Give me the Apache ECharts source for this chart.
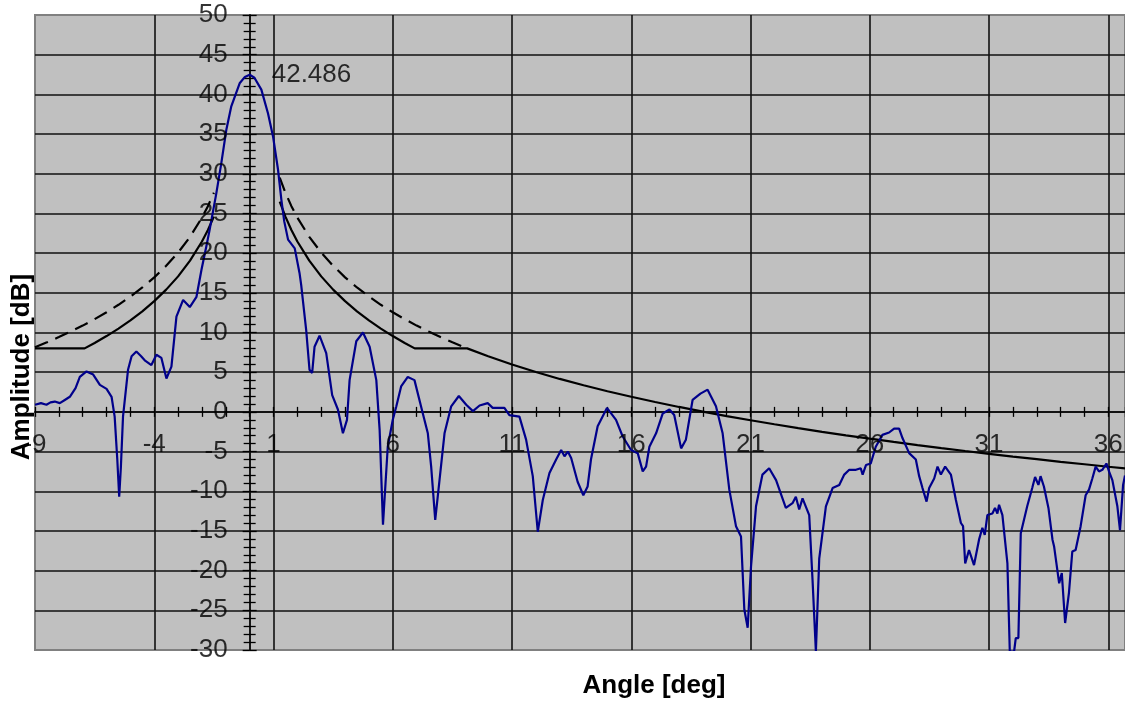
<!DOCTYPE html>
<html><head><meta charset="utf-8">
<script src="https://cdn.jsdelivr.net/npm/echarts@6/dist/echarts.min.js"></script>
<style>html,body{margin:0;padding:0;background:#fff}#c{width:1125px;height:704px}</style>
</head><body><div id="c"></div><script>
// Measured antenna pattern (blue)
const blueAngle = [-9.0,-8.75,-8.52,-8.35,-8.17,-7.96,-7.75,-7.54,-7.3,-7.12,-6.84,-6.56,-6.28,-6.0,-5.79,-5.66,-5.55,-5.47,-5.40,-5.31,-5.10,-4.95,-4.75,-4.55,-4.40,-4.12,-3.91,-3.70,-3.49,-3.28,-3.07,-2.79,-2.51,-2.23,-2.02,-1.82,-1.68,-1.40,-1.19,-0.98,-0.77,-0.42,-0.2,0,0.2,0.49,0.77,0.98,1.19,1.33,1.45,1.61,1.89,2.09,2.16,2.37,2.51,2.62,2.72,2.93,3.21,3.46,3.70,3.91,4.08,4.19,4.47,4.75,5.03,5.31,5.45,5.59,5.79,6.0,6.15,6.35,6.63,6.91,7.26,7.47,7.61,7.78,7.96,8.17,8.45,8.77,9.08,9.36,9.64,9.98,10.19,10.68,10.89,11.31,11.59,11.87,12.08,12.29,12.57,12.85,13.06,13.2,13.34,13.48,13.75,13.99,14.17,14.31,14.59,14.98,15.36,15.64,15.99,16.27,16.48,16.62,16.76,17.04,17.32,17.60,17.8,18.09,18.29,18.57,18.9,19.2,19.55,19.83,20.11,20.39,20.6,20.74,20.88,21.02,21.23,21.5,21.78,22.07,22.48,22.76,22.9,23.04,23.18,23.46,23.6,23.74,23.88,24.16,24.44,24.72,24.93,25.14,25.42,25.62,25.7,25.84,26.04,26.25,26.53,26.81,27.02,27.23,27.37,27.65,27.93,28.07,28.21,28.38,28.49,28.7,28.84,28.98,29.16,29.4,29.61,29.82,29.91,30.0,30.16,30.37,30.58,30.72,30.82,30.93,31.14,31.25,31.35,31.42,31.56,31.77,31.87,32.05,32.12,32.23,32.33,32.6,32.81,32.93,33.07,33.16,33.3,33.49,33.66,33.73,33.94,34.05,34.19,34.35,34.49,34.63,34.84,35.05,35.19,35.33,35.47,35.61,35.75,35.92,36.03,36.17,36.38,36.49,36.62,36.7];
const blueDb = [0.9,1.1,0.9,1.2,1.3,1.1,1.5,1.9,3.0,4.4,5.1,4.7,3.4,2.9,1.9,-0.6,-6.0,-10.7,-7.0,-0.6,5.3,7.0,7.6,7.0,6.5,5.9,7.2,6.8,4.2,5.7,12.0,14.1,13.2,14.5,17.9,20.8,22.9,27.5,31.3,35.5,38.5,41.4,42.2,42.486,42.1,40.6,37.6,34.7,30.5,26.7,24.0,21.7,20.6,17.5,16.0,10.3,5.3,4.9,8.2,9.6,7.4,2.1,0.3,-2.7,-1.0,4.0,8.9,10.0,8.2,4.0,-2.3,-14.2,-4.4,-1.0,0.7,3.2,4.4,4.0,-0.2,-2.7,-6.9,-13.6,-8.6,-2.7,0.7,2.0,0.9,0.1,0.8,1.1,0.5,0.5,-0.4,-0.6,-3.5,-8.1,-15.1,-11.1,-7.7,-6.0,-4.8,-5.6,-5.0,-5.8,-8.8,-10.5,-9.4,-6.0,-1.8,0.5,-1.0,-3.1,-4.8,-5.2,-7.5,-6.9,-4.4,-2.7,-0.2,0.3,-0.4,-4.6,-3.5,1.5,2.3,2.8,0.7,-2.7,-9.8,-14.4,-15.7,-24.9,-27.2,-19.5,-11.9,-7.9,-7.1,-8.6,-12.1,-11.5,-10.7,-12.3,-10.9,-13.0,-21.2,-30.2,-18.5,-11.9,-9.6,-9.2,-7.9,-7.3,-7.3,-7.1,-7.9,-6.7,-6.5,-4.4,-2.9,-2.6,-2.1,-2.1,-3.3,-5.2,-6.0,-8.1,-9.6,-11.3,-9.6,-8.4,-6.9,-7.9,-6.9,-7.9,-11.1,-14.0,-14.4,-19.1,-17.4,-19.3,-16.1,-14.6,-15.5,-13.0,-12.8,-12.1,-12.8,-11.7,-13.0,-19.1,-30.2,-30.2,-28.5,-28.5,-15.3,-11.9,-9.6,-8.2,-9.2,-8.1,-9.4,-12.1,-16.1,-17.0,-21.6,-20.3,-26.6,-22.8,-17.6,-17.4,-14.4,-10.5,-9.8,-8.4,-6.9,-7.5,-7.3,-6.5,-7.5,-8.6,-11.9,-14.9,-9.2,-8.0];

// Peak annotation
const peakAngle = 0;
const peakDb = 42.486;

// Envelope masks (solid)
const solidLeftAngle = [-9,-6.92,-6.5,-6,-5.5,-5,-4.5,-4,-3.5,-3,-2.5,-2,-1.75,-1.5];
const solidLeftDb = [8,8,8.68,9.55,10.49,11.53,12.67,13.95,15.40,17.07,19.05,21.47,22.92,24.60];
const solidRightAngle = [1.26,1.5,1.75,2,2.5,3,3.5,4,4.5,5,5.5,6,6.5,6.92,9.12,10,11,12,13,14,15,16,17,18,19,20,21,22,23,24,25,26,27,28,29,30,31,32,33,34,35,36,37];
const solidRightDb = [26.5,24.60,22.92,21.47,19.05,17.07,15.40,13.95,12.67,11.53,10.49,9.55,8.68,8,8,7.0,5.97,5.02,4.15,3.35,2.60,1.90,1.24,0.62,0.03,-0.53,-1.06,-1.56,-2.04,-2.51,-2.95,-3.37,-3.78,-4.18,-4.56,-4.93,-5.28,-5.63,-5.96,-6.29,-6.60,-6.91,-7.20];
// Envelope masks (dashed)
const dashedLeftAngle = [-9,-8.5,-8,-7.5,-7,-6.5,-6,-5.5,-5,-4.5,-4,-3.5,-3,-2.5,-2,-1.75,-1.5];
const dashedLeftDb = [8.14,8.76,9.42,10.12,10.87,11.68,12.55,13.49,14.53,15.67,16.95,18.40,20.07,22.05,24.47,25.92,27.60];
const dashedRightAngle = [1.26,1.5,1.75,2,2.5,3,3.5,4,4.5,5,5.5,6,6.5,7,7.5,8,8.5,9.12];
const dashedRightDb = [29.5,27.60,25.92,24.47,22.05,20.07,18.40,16.95,15.67,14.53,13.49,12.55,11.68,10.87,10.12,9.42,8.76,8.0];

// Tick labels (drawn at the axes crossing, x = 0 / y = 0)
const xTickLabels = [-9,-4,1,6,11,16,21,26,31,36];
const yTickLabels = [-30,-25,-20,-15,-10,-5,0,5,10,15,20,25,30,35,40,45,50];

const xTitle = 'Angle [deg]';
const yTitle = 'Amplitude [dB]';

const FONT = "'Liberation Sans', Arial, sans-serif";
const pairs = (a, b) => a.map((x, i) => [x, b[i]]);

const chart = echarts.init(document.getElementById('c'), null, {renderer: 'canvas'});

const xBase = {type: 'value', min: -9, max: 36.7, interval: 5};
const yBase = {type: 'value', min: -30, max: 50, interval: 5};
const GRIDLINE = {color: '#111', width: 1.6};
const TICK = {color: '#000', width: 1.3};

const maskLine = (data, dashed) => ({
  type: 'line', data, symbol: 'none', smooth: false, clip: true, z: 3,
  xAxisIndex: 0, yAxisIndex: 0, silent: true,
  lineStyle: {color: '#000', width: 2.2, type: dashed ? [14, 8] : 'solid'}
});

const labelSeries = (data, position, distance, fmt) => ({
  type: 'scatter', data, symbol: 'circle', symbolSize: 0.1, z: 6, clip: false, silent: true,
  xAxisIndex: 0, yAxisIndex: 0,
  itemStyle: {color: 'rgba(0,0,0,0)'},
  label: {show: true, position, distance, formatter: fmt,
          fontSize: 26, color: '#000', fontFamily: FONT}
});

chart.setOption({
  animation: false,
  grid: {left: 35, right: 0, top: 15, bottom: 54, outerBoundsMode: 'none', containLabel: false,
         show: true, backgroundColor: '#c0c0c0', borderColor: '#808080', borderWidth: 2},
  xAxis: [
    Object.assign({}, xBase, {
      axisLine: {onZero: true, lineStyle: GRIDLINE},
      axisTick: {show: true, length: 5, lineStyle: TICK},
      minorTick: {show: true, splitNumber: 5, length: 5, lineStyle: TICK},
      splitLine: {show: true, showMinLine: false, showMaxLine: false, lineStyle: GRIDLINE},
      axisLabel: {show: false}
    }),
    Object.assign({}, xBase, {
      position: 'bottom',
      axisLine: {onZero: true, onZeroAxisIndex: 0, lineStyle: GRIDLINE},
      axisTick: {show: true, inside: true, length: 5, lineStyle: TICK},
      minorTick: {show: true, splitNumber: 5, length: 5, lineStyle: TICK},
      splitLine: {show: false},
      axisLabel: {show: false}
    })
  ],
  yAxis: [
    Object.assign({}, yBase, {
      axisLine: {onZero: true, lineStyle: GRIDLINE},
      axisTick: {show: true, length: 7, lineStyle: TICK},
      minorTick: {show: true, splitNumber: 5, length: 6, lineStyle: TICK},
      splitLine: {show: true, showMinLine: false, showMaxLine: false, lineStyle: GRIDLINE},
      axisLabel: {show: false}
    }),
    Object.assign({}, yBase, {
      position: 'left',
      axisLine: {onZero: true, onZeroAxisIndex: 0, lineStyle: GRIDLINE},
      axisTick: {show: true, inside: true, length: 7, lineStyle: TICK},
      minorTick: {show: true, splitNumber: 5, length: 6, lineStyle: TICK},
      splitLine: {show: false},
      axisLabel: {show: false}
    })
  ],
  graphic: [
    {type: 'text', x: 22, y: 367, rotation: Math.PI / 2, z: 100,
     style: {text: yTitle, font: 'bold 26px ' + FONT, fill: '#000', align: 'center', verticalAlign: 'middle'}},
    {type: 'text', x: 654, y: 686, z: 100,
     style: {text: xTitle, font: 'bold 26px ' + FONT, fill: '#000', align: 'center', verticalAlign: 'middle'}}
  ],
  series: [
    maskLine(pairs(solidLeftAngle, solidLeftDb), false),
    maskLine(pairs(solidRightAngle, solidRightDb), false),
    maskLine(pairs(dashedLeftAngle, dashedLeftDb), true),
    maskLine(pairs(dashedRightAngle, dashedRightDb), true),
    {
      type: 'line', data: pairs(blueAngle, blueDb), symbol: 'none', smooth: false, clip: true, z: 4,
      xAxisIndex: 0, yAxisIndex: 0, silent: true,
      lineStyle: {color: '#00008b', width: 2.2}
    },
    labelSeries([[peakAngle, peakDb]], 'right', 22, () => peakDb.toFixed(3)),
    labelSeries(xTickLabels.map(v => [v, 0]), 'bottom', 20, p => String(p.value[0])),
    labelSeries(yTickLabels.map(v => [0, v]), 'left', 22, p => String(p.value[1]))
  ]
});
</script></body></html>
